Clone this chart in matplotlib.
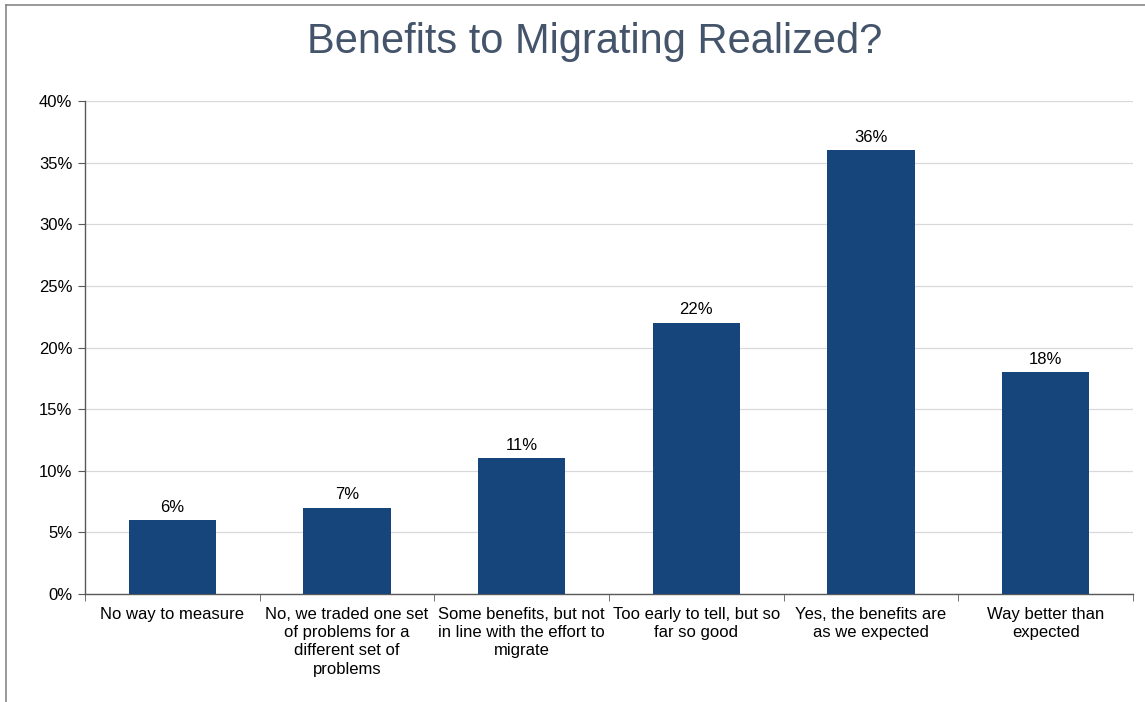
import matplotlib.pyplot as plt
from matplotlib.lines import Line2D
from matplotlib.ticker import FuncFormatter, MultipleLocator
import numpy as np

plt.rcParams["font.family"] = ["Liberation Sans", "DejaVu Sans"]

categories = [
    "No way to measure",
    "No, we traded one set\nof problems for a\ndifferent set of\nproblems",
    "Some benefits, but not\nin line with the effort to\nmigrate",
    "Too early to tell, but so\nfar so good",
    "Yes, the benefits are\nas we expected",
    "Way better than\nexpected",
]
shares = [6, 7, 11, 22, 36, 18]
title = "Benefits to Migrating Realized?"

bar_color = "#15457A"
title_color = "#44546A"

fig = plt.figure(figsize=(11.45, 7.02), dpi=100)
ax = fig.add_axes([0.0742, 0.1538, 0.9153, 0.7023])

x = np.arange(len(categories))
bars = ax.bar(x, shares, width=0.5, color=bar_color, zorder=3)
for rect, v in zip(bars, shares):
    ax.annotate(f"{v}%", (rect.get_x() + rect.get_width() / 2, v),
                xytext=(0, 4), textcoords="offset points",
                ha="center", va="bottom", fontsize=12, color="#000000")

ax.set_xlim(-0.5, len(categories) - 0.5)
ax.set_ylim(0, 40)
ax.yaxis.set_major_locator(MultipleLocator(5))
ax.yaxis.set_major_formatter(FuncFormatter(lambda v, _: f"{v:.0f}%"))
ax.grid(axis="y", color="#D9D9D9", linewidth=0.9, zorder=0)

ax.set_xticks(x)
ax.set_xticklabels(categories, fontsize=12, linespacing=1.28)
ax.tick_params(axis="x", length=0, pad=9)
ax.set_xticks(np.arange(-0.5, len(categories)), minor=True)
ax.tick_params(axis="x", which="minor", length=5, color="#595959")
ax.tick_params(axis="y", labelsize=12, length=5, color="#595959", pad=4)

for side in ["top", "right"]:
    ax.spines[side].set_visible(False)
for side in ["left", "bottom"]:
    ax.spines[side].set_color("#595959")
    ax.spines[side].set_linewidth(1.0)

fig.text(0.5197, 0.94, title, ha="center", va="center",
         fontsize=30, color=title_color)

# outer chart frame (top and left edges visible)
fig.add_artist(Line2D([6 / 1145, 1], [1 - 5 / 702, 1 - 5 / 702],
                      transform=fig.transFigure, color="#888888", linewidth=1.2))
fig.add_artist(Line2D([6 / 1145, 6 / 1145], [0, 1 - 5 / 702],
                      transform=fig.transFigure, color="#888888", linewidth=1.2))

fig.savefig("out.png", dpi=100)
